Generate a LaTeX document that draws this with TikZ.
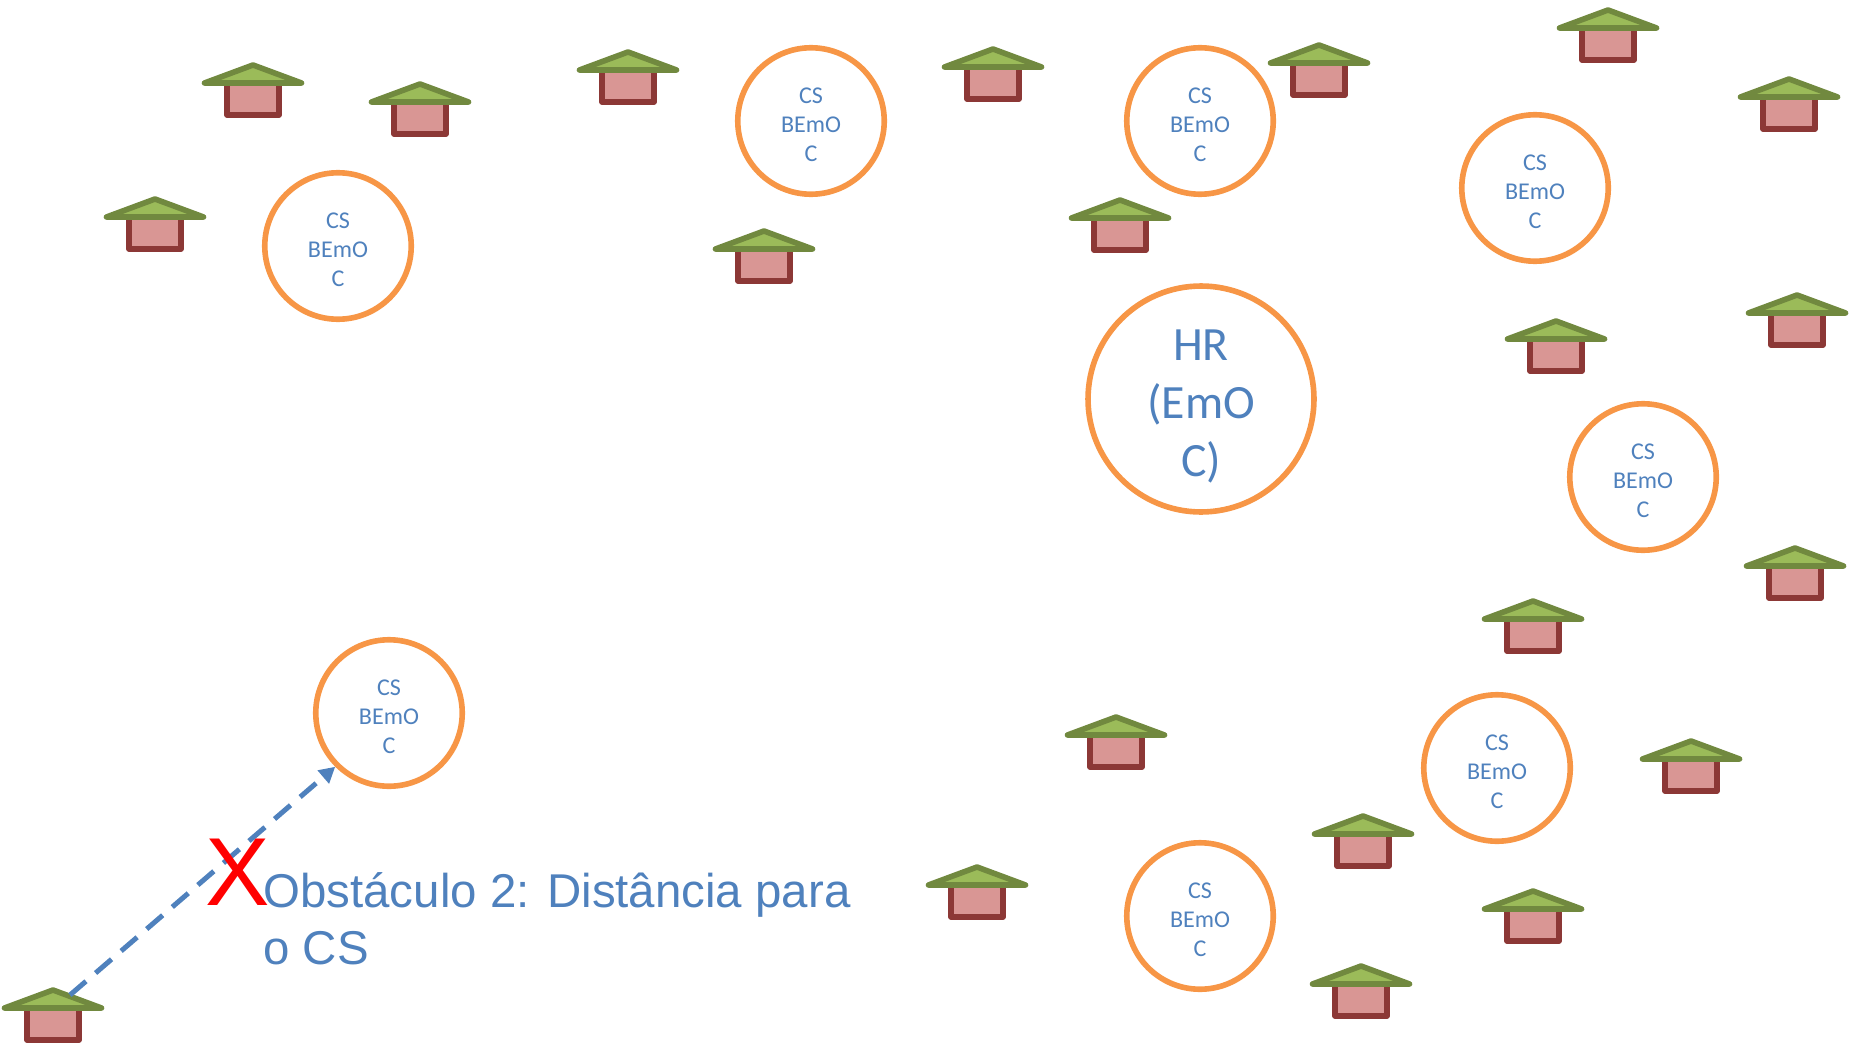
\documentclass[tikz,border=0pt]{standalone}
\usepackage{fontspec}
\usetikzlibrary{arrows.meta}
\setmainfont{Carlito}
\newfontfamily\arialfont{Liberation Sans}
\definecolor{csorange}{HTML}{F79646}
\definecolor{csblue}{HTML}{4F81BD}
\definecolor{roofgreen}{HTML}{9BBB59}
\definecolor{roofedge}{HTML}{71893F}
\definecolor{wallred}{HTML}{D99694}
\definecolor{walledge}{HTML}{8C3836}
\newcommand{\csstrut}{\rule{0pt}{12.95pt}}
\newcommand{\hrstrut}{\rule{0pt}{26.3pt}}
\begin{document}
\begin{tikzpicture}[
        x=0.02cm,
        y=-0.02cm,
        line join=round
    ]
    \tikzset{
        csnode/.style = {circle, draw=csorange, line width=3.2pt, align=center, inner sep=0pt,
            minimum size=2.93cm, text=csblue, font=\fontsize{13.7}{16.5}\selectfont},
        hrnode/.style = {csnode, minimum size=4.52cm, font=\fontsize{27.2}{33}\selectfont},
        linkd/.style = {-{Triangle[length=9pt,width=9.5pt]}, csblue, line width=2.85pt, dash pattern=on 12pt off 7.2pt},
        xmark/.style = {text=red, inner sep=0pt, font=\arialfont\fontsize{55}{55}\selectfont},
        obstlabel/.style = {text=csblue, inner sep=0pt, align=left, anchor=north west,
            font=\arialfont\fontsize{27}{32.4}\selectfont},
        house/.pic = {
            \draw[walledge, fill=wallred, line width=3.2pt] (-26,20) -- (-26,52) -- (26,52) -- (26,20);
            \draw[roofedge, fill=roofgreen, line width=3.2pt] (-48.5,20) -- (0,2) -- (48.5,20) -- cycle;
            \coordinate (-roof) at (17,7);
        },
    }
        \useasboundingbox (0,0) rectangle (1861,1044);
        %
        \pic at (253,63) {house};
        \pic at (420,82) {house};
        \pic at (628,50) {house};
        \pic at (993,47) {house};
        \pic at (1319,43) {house};
        \pic at (1608,8) {house};
        \pic at (1789,77) {house};
        \pic at (155,197) {house};
        \pic at (764,229) {house};
        \pic at (1120,198) {house};
        \pic at (1556,319) {house};
        \pic at (1797,293) {house};
        \pic at (1795,546) {house};
        \pic at (1533,599) {house};
        \pic at (1116,715) {house};
        \pic at (1691,739) {house};
        \pic at (1363,814) {house};
        \pic at (977,865) {house};
        \pic at (1533,889) {house};
        \pic at (1361,964) {house};
        \pic (hsrc) at (53,988) {house};
        %
        \node[csnode] at (338,246) (csa) {\csstrut CS\\BEmO\\C};
        \node[csnode] at (811,121) (csb) {\csstrut CS\\BEmO\\C};
        \node[csnode] at (1200,121) (csc) {\csstrut CS\\BEmO\\C};
        \node[csnode] at (1535,188) (csd) {\csstrut CS\\BEmO\\C};
        \node[csnode] at (1643,477) (cse) {\csstrut CS\\BEmO\\C};
        \node[csnode] at (389,713) (csf) {\csstrut CS\\BEmO\\C};
        \node[csnode] at (1497,768) (csg) {\csstrut CS\\BEmO\\C};
        \node[csnode] at (1200,916) (csh) {\csstrut CS\\BEmO\\C};
        \node[hrnode] at (1201,399) (hr) {\hrstrut HR\\(EmO\\C)};
        %
        \draw[linkd] (hsrc-roof) -- (csf.225);
        %
        \node[xmark] at (238,872) (xm) {X};
        \node[obstlabel] at (263,872) (obst) {Obstáculo 2: Distância para\\o CS};
    \end{tikzpicture}
\end{document}
